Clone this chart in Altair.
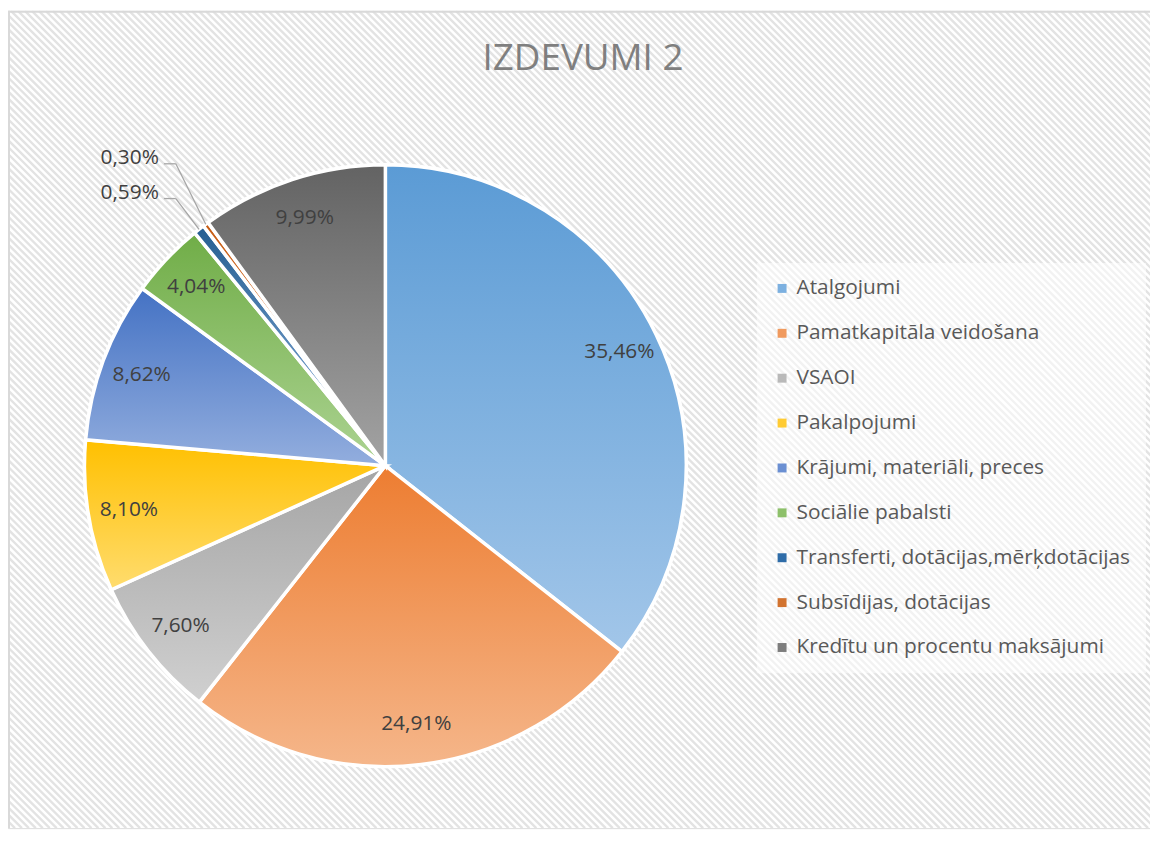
import altair as alt
import pandas as pd

# ---------------- data ----------------
TITLE = "IZDEVUMI 2"
categories = [
    "Atalgojumi",
    "Pamatkapitāla veidošana",
    "VSAOI",
    "Pakalpojumi",
    "Krājumi, materiāli, preces",
    "Sociālie pabalsti",
    "Transferti, dotācijas,mērķdotācijas",
    "Subsīdijas, dotācijas",
    "Kredītu un procentu maksājumi",
]
values = [35.46, 24.91, 7.60, 8.10, 8.62, 4.04, 0.59, 0.30, 9.99]

# ---------------- styles ----------------
legend_colors = ["#7cb0e0", "#f09a5e", "#b9b9b9", "#ffcb33", "#6a8fd2",
                 "#8dc06a", "#2e6ca8", "#d2732f", "#7d7d7d"]
grad_top = ["#5b9bd5", "#ed7d31", "#a5a5a5", "#ffc000", "#4472c4",
            "#70ad47", "#255e91", "#c55a11", "#636363"]
grad_bottom = ["#a2c6e9", "#f5b68a", "#d0d0d0", "#ffdc6e", "#93aede",
               "#acd392", "#8fb4e0", "#f4b183", "#a3a3a3"]

W, H = 1150, 823
CX, CY = 380, 458
R = 303
FONT = "Open Sans"

df = pd.DataFrame({"cat": categories, "value": values,
                   "idx": list(range(len(categories)))})


def grad(top, bottom):
    return {"gradient": "linear", "x1": 0, "y1": 0, "x2": 0, "y2": 1,
            "stops": [{"offset": 0, "color": top},
                      {"offset": 1, "color": bottom}]}


# ---------------- background hatch ----------------
hatch = (
    alt.Chart(alt.sequence(-H, W + 10, 7, as_="k"))
    .transform_calculate(k2=f"datum.k + {H}")
    .mark_rule(stroke="#e3e3e3", strokeWidth=2.4, clip=True)
    .encode(
        x=alt.X("k:Q", scale=None, axis=None),
        x2="k2:Q",
        y=alt.value(0),
        y2=alt.value(H),
    )
)

one = alt.Data(values=[{"t": TITLE}])
border_left = alt.Chart(one).mark_rule(color="#d9d9d9", strokeWidth=2).encode(
    x=alt.value(1), y=alt.value(0), y2=alt.value(H))
border_top = alt.Chart(one).mark_rule(color="#d9d9d9", strokeWidth=2).encode(
    y=alt.value(1), x=alt.value(0), x2=alt.value(W))

title = alt.Chart(one).mark_text(
    fontSize=37, font=FONT, color="#7f7f7f", align="center", baseline="middle"
).encode(text="t:N", x=alt.value(579), y=alt.value(49))

# ---------------- pie ----------------
theta = alt.Theta("value:Q", stack=True)
order = alt.Order("idx:Q")

base = alt.Chart(df).mark_arc(radius=R, stroke="white", strokeWidth=3.5).encode(
    theta=theta,
    order=order,
    color=alt.Color(
        "cat:N",
        scale=alt.Scale(domain=categories, range=legend_colors),
        sort=categories,
        legend=alt.Legend(
            orient="none", legendX=754, legendY=254, direction="vertical",
            title=None, symbolType="square", symbolSize=81,
            symbolStrokeWidth=0, labelFont=FONT, labelFontSize=21,
            labelColor="#595959", labelLimit=600, labelOffset=4,
            rowPadding=23.2, padding=15,
            fillColor="rgba(255,255,255,0.55)",
        ),
    ),
    x=alt.value(CX),
    y=alt.value(CY),
)

conds = [{"test": f"datum.cat === '{c}'", "value": grad(t, b)}
         for c, t, b in zip(categories, grad_top, grad_bottom)]
overlay = alt.Chart(df).mark_arc(radius=R, stroke="white", strokeWidth=3.5).encode(
    theta=theta,
    order=order,
    fill=alt.FillValue(value="#999999", condition=conds),
    x=alt.value(CX),
    y=alt.value(CY),
)

fmt = "replace(format(datum.value, '.2f'), '.', ',') + '%'"
inner = alt.Chart(df).transform_calculate(
    label=f"datum.value >= 1 ? {fmt} : ''"
).mark_text(radius=262, font=FONT, fontSize=21, color="#404040",
            align="center", baseline="middle").encode(
    theta=theta, order=order, text="label:N",
    x=alt.value(CX), y=alt.value(CY),
)

# ---------------- callouts for the thin slices ----------------
small = (
    alt.Chart(df)
    .transform_joinaggregate(total="sum(value)")
    .transform_window(cum="sum(value)", sort=[alt.SortField("idx")], frame=[None, 0])
    .transform_calculate(mid="2*PI*(datum.cum - datum.value/2)/datum.total")
    .transform_filter("datum.value < 1")
    .transform_window(rk="rank()", sort=[alt.SortField("idx", order="descending")])
    .transform_calculate(
        ex=f"{CX} + {R}*sin(datum.mid)",
        ey=f"{CY} - {R}*cos(datum.mid)",
        ly=f"{CY} - 310 + 35*(datum.rk - 1)",
        lx=f"{CX} - 228",
        hx1=f"{CX} - 223",
        hx2=f"{CX} - 211",
        hy=f"{CY} - 304 + 35*(datum.rk - 1)",
        label=fmt,
    )
)

callout_text = small.mark_text(font=FONT, fontSize=21, color="#404040",
                               align="right", baseline="middle").encode(
    x=alt.X("lx:Q", scale=None, axis=None),
    y=alt.Y("ly:Q", scale=None, axis=None),
    text="label:N",
)
lead_h = small.mark_rule(color="#a6a6a6", strokeWidth=1.3).encode(
    x=alt.X("hx1:Q", scale=None, axis=None), x2="hx2:Q",
    y=alt.Y("hy:Q", scale=None, axis=None), y2="hy:Q",
)
lead_d = small.mark_rule(color="#a6a6a6", strokeWidth=1.3).encode(
    x=alt.X("hx2:Q", scale=None, axis=None), x2="ex:Q",
    y=alt.Y("hy:Q", scale=None, axis=None), y2="ey:Q",
)

chart = (
    alt.layer(hatch, border_left, border_top, title, base, overlay, inner,
              lead_h, lead_d, callout_text)
    .properties(width=W, height=H, padding=0,
                autosize=alt.AutoSizeParams(type="none"))
    .configure_view(stroke=None)
    .configure(background="white")
)

chart.save("out.html", embed_options={"renderer": "svg", "actions": False})
